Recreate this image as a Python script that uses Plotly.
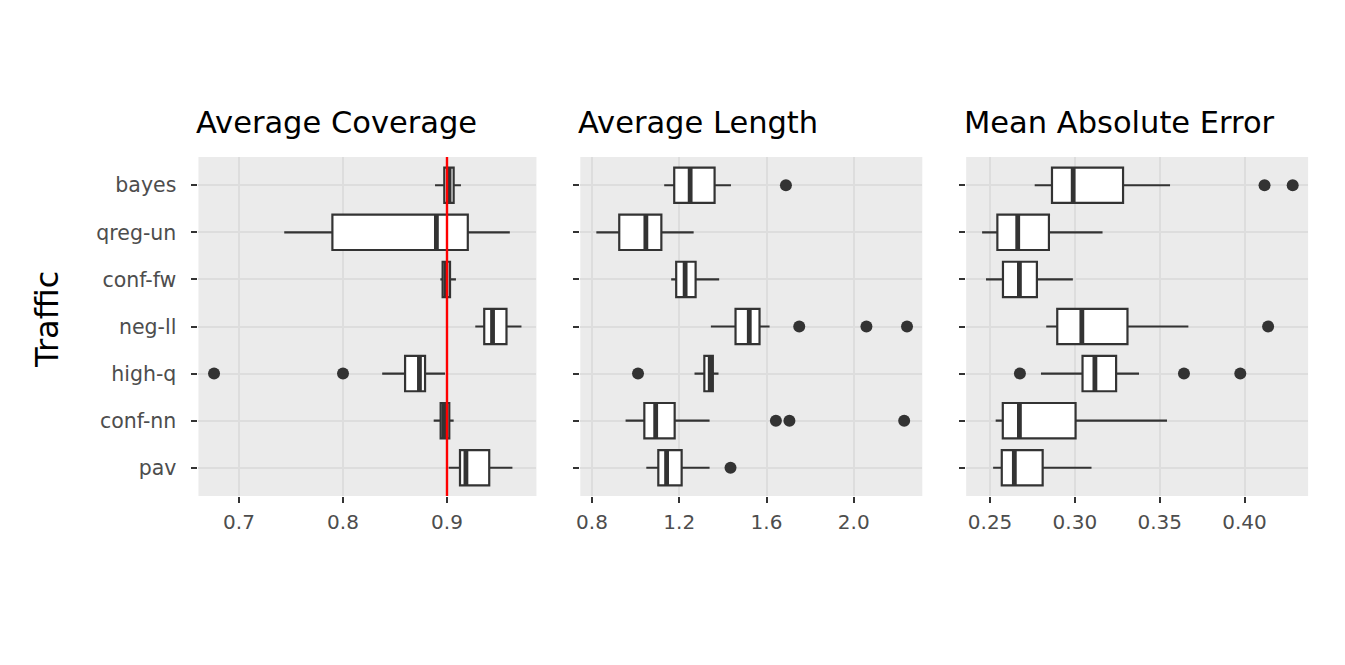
import plotly.graph_objects as go

# ---------------- data ----------------
categories = ["bayes", "qreg-un", "conf-fw", "neg-ll", "high-q", "conf-nn", "pav"]

panel_titles = ["Average Coverage", "Average Length", "Mean Absolute Error"]

# Average Coverage
cov_q1 = [0.8974, 0.7898, 0.8958, 0.9358, 0.8597, 0.8939, 0.9125]
cov_med = [0.9020, 0.8898, 0.8990, 0.9438, 0.8735, 0.8970, 0.9182]
cov_q3 = [0.9064, 0.9200, 0.9029, 0.9572, 0.8789, 0.9022, 0.9406]
cov_lo = [0.8885, 0.7435, 0.8936, 0.9272, 0.8377, 0.8872, 0.9016]
cov_hi = [0.9134, 0.9604, 0.9086, 0.9716, 0.8981, 0.9064, 0.9629]
cov_out = [[], [], [], [], [0.676, 0.800], [], []]

# Average Length
len_q1 = [1.177, 0.925, 1.186, 1.458, 1.315, 1.040, 1.104]
len_med = [1.250, 1.047, 1.227, 1.521, 1.342, 1.092, 1.142]
len_q3 = [1.362, 1.118, 1.275, 1.568, 1.354, 1.179, 1.211]
len_lo = [1.131, 0.820, 1.163, 1.345, 1.270, 0.954, 1.049]
len_hi = [1.437, 1.266, 1.383, 1.614, 1.380, 1.339, 1.339]
len_out = [[1.689], [], [], [1.750, 2.058, 2.244], [1.011], [1.643, 1.705, 2.231], [1.435]]

# Mean Absolute Error
mae_q1 = [0.2865, 0.2543, 0.2576, 0.2896, 0.3045, 0.2575, 0.2569]
mae_med = [0.2990, 0.2663, 0.2673, 0.3041, 0.3118, 0.2673, 0.2643]
mae_q3 = [0.3284, 0.2847, 0.2776, 0.3310, 0.3243, 0.3004, 0.2810]
mae_lo = [0.2763, 0.2453, 0.2476, 0.2831, 0.2800, 0.2533, 0.2518]
mae_hi = [0.3561, 0.3163, 0.2988, 0.3669, 0.3378, 0.3543, 0.3098]
mae_out = [[0.4118, 0.4284], [], [], [0.4139], [0.2676, 0.3643, 0.3975], [], []]

x_tickvals = [[0.7, 0.8, 0.9], [0.8, 1.2, 1.6, 2.0], [0.25, 0.30, 0.35, 0.40]]
x_ticktext = [["0.7", "0.8", "0.9"], ["0.8", "1.2", "1.6", "2.0"], ["0.25", "0.30", "0.35", "0.40"]]
x_ranges = [[0.661, 0.986], [0.7465, 2.314], [0.2359, 0.4375]]
target_coverage = 0.9
y_title = "Traffic"

panels = [
    (cov_q1, cov_med, cov_q3, cov_lo, cov_hi, cov_out),
    (len_q1, len_med, len_q3, len_lo, len_hi, len_out),
    (mae_q1, mae_med, mae_q3, mae_lo, mae_hi, mae_out),
]

# ---------------- styling ----------------
W, H = 1345, 665
OFF = 8  # page body margin
FONT = "DejaVu Sans"
DARK = "#333333"
GRID = "#DDDDDD"
BG = "#EBEBEB"
BOXW = 0.75


def px(xp):
    return (xp - OFF) / W


def py(yp):
    return 1 - (yp - OFF) / H


x_domains = [(px(195), px(534)), (px(578), px(921)), (px(965), px(1308))]
y_domain = (py(496), py(157))

n = len(categories)
ypos = [n - i for i in range(n)]  # bayes on top

fig = go.Figure()

for p, (q1, med, q3, lo, hi, out) in enumerate(panels):
    xa = "x" if p == 0 else f"x{p+1}"
    ya = "y" if p == 0 else f"y{p+1}"
    fig.add_trace(go.Box(
        y=ypos, q1=q1, median=med, q3=q3, lowerfence=lo, upperfence=hi,
        orientation="h", width=BOXW, whiskerwidth=0, boxpoints=False,
        fillcolor="white", line=dict(color=DARK, width=2.2),
        xaxis=xa, yaxis=ya, showlegend=False, hoverinfo="skip",
    ))
    # thick median segments
    mx, my = [], []
    for yy, m in zip(ypos, med):
        mx += [m, m, None]
        my += [yy - BOXW / 2, yy + BOXW / 2, None]
    fig.add_trace(go.Scatter(
        x=mx, y=my, mode="lines", line=dict(color=DARK, width=4.8),
        xaxis=xa, yaxis=ya, showlegend=False, hoverinfo="skip",
    ))
    # outliers
    ox, oy = [], []
    for yy, vals in zip(ypos, out):
        for v in vals:
            ox.append(v)
            oy.append(yy)
    fig.add_trace(go.Scatter(
        x=ox, y=oy, mode="markers",
        marker=dict(color=DARK, size=12, line=dict(width=0)),
        xaxis=xa, yaxis=ya, showlegend=False, hoverinfo="skip",
    ))

layout = dict(
    width=W, height=H,
    margin=dict(l=0, r=0, t=0, b=0),
    paper_bgcolor="white", plot_bgcolor=BG,
    showlegend=False,
)

for p in range(3):
    xk = "xaxis" if p == 0 else f"xaxis{p+1}"
    yk = "yaxis" if p == 0 else f"yaxis{p+1}"
    ya = "y" if p == 0 else f"y{p+1}"
    xa = "x" if p == 0 else f"x{p+1}"
    layout[xk] = dict(
        domain=list(x_domains[p]), anchor=ya, range=x_ranges[p],
        tickmode="array", tickvals=x_tickvals[p], ticktext=x_ticktext[p],
        ticks="outside", ticklen=6, tickwidth=2, tickcolor=DARK,
        showgrid=True, gridcolor=GRID, gridwidth=1.7,
        zeroline=False, showline=False,
        tickfont=dict(family=FONT, size=20, color="#4D4D4D"),
        ticklabelstandoff=2,
    )
    layout[yk] = dict(
        domain=list(y_domain), anchor=xa, range=[0.4, n + 0.6],
        tickmode="array", tickvals=ypos,
        ticktext=categories if p == 0 else [""] * n,
        ticks="outside", ticklen=6, tickwidth=2, tickcolor=DARK,
        showgrid=True, gridcolor=GRID, gridwidth=1.7,
        zeroline=False, showline=False,
        tickfont=dict(family=FONT, size=20.5, color="#4D4D4D"),
        ticklabelstandoff=11,
    )

fig.update_layout(**layout)

# panel titles
for p in range(3):
    fig.add_annotation(
        text=panel_titles[p], xref="paper", yref="paper",
        x=x_domains[p][0] - 4 / W, y=py(122.5), xanchor="left", yanchor="middle",
        showarrow=False, font=dict(family=FONT, size=30.5, color="black"),
    )

# y title
fig.add_annotation(
    text=y_title, xref="paper", yref="paper", x=px(43), y=py(319),
    xanchor="center", yanchor="middle", textangle=-90, showarrow=False,
    font=dict(family=FONT, size=32, color="black"),
)

# target coverage line
fig.add_shape(
    type="line", xref="x", yref="y domain", x0=target_coverage, x1=target_coverage,
    y0=0, y1=1, line=dict(color="#FF0000", width=2.4), layer="above",
)

fig.write_html("out.html")
